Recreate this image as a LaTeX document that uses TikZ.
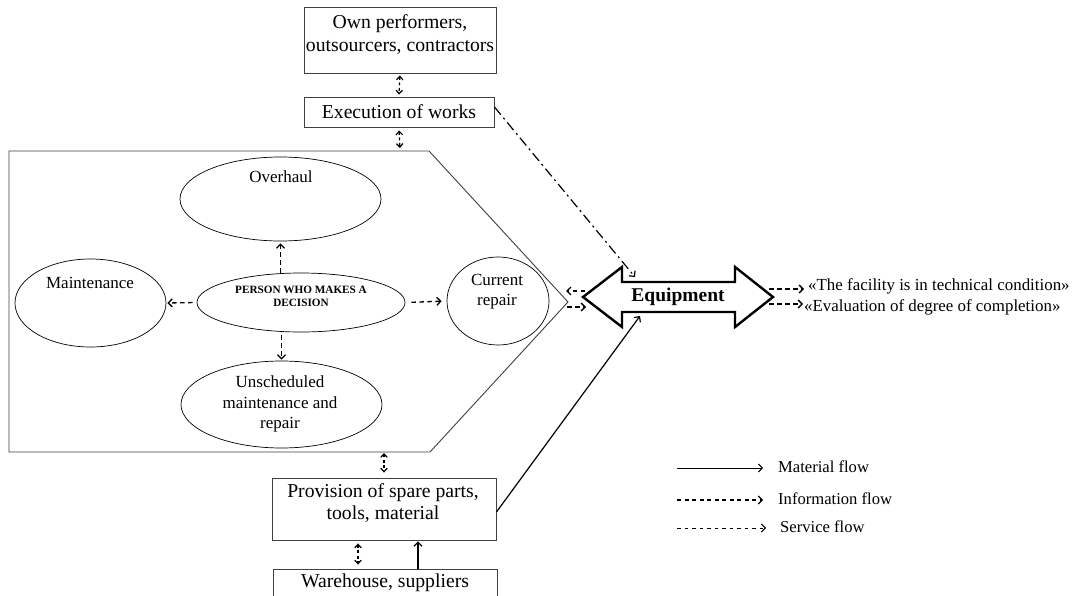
\documentclass[tikz,border=0pt]{standalone}
\usepackage{fontspec}
\setmainfont{Liberation Serif}
\usetikzlibrary{arrows.meta,shapes.geometric}
\begin{document}
\begin{tikzpicture}[x=1pt,y=-1pt,
  box/.style={draw=black!75, line width=0.9pt, inner sep=0pt},
  ell/.style={draw, ellipse, line width=0.7pt, inner sep=0pt},
  btxt/.style={inner sep=0pt, font=\fontsize{19.7}{22.5}\selectfont},
  etxt/.style={inner sep=0pt, font=\fontsize{17}{20.5}\selectfont},
  rtxt/.style={inner sep=0pt, font=\fontsize{16.9}{20}\selectfont},
  ltxt/.style={inner sep=0pt, font=\fontsize{16.6}{20}\selectfont},
  barb/.tip={Straight Barb[length=4pt,width=8pt]},
  sbarb/.tip={Straight Barb[length=3.5pt,width=6.5pt]},
  infoarrow/.style={line width=1.3pt, dash pattern=on 4.5pt off 3.5pt, -barb},
  leginfo/.style={line width=1.1pt, dash pattern=on 4pt off 3.5pt, -barb},
  servarrow/.style={line width=0.9pt, dash pattern=on 3.5pt off 4pt, -barb},
  dblarrow/.style={line width=1.2pt, dash pattern=on 3pt off 2.5pt, sbarb-sbarb},
  matarrow/.style={line width=1.2pt, -barb},
  legmat/.style={line width=1pt, -barb},
  ddarrow/.style={line width=1.2pt, dash pattern=on 10pt off 4pt on 2pt off 4pt, -barb}
]
\fill[white] (0,0) rectangle (1075,596);
\useasboundingbox (0,0) rectangle (1075,596);

% top boxes
\node[box, minimum width=192pt, minimum height=66pt] (own) at (400,40) {};
\node[btxt, align=center] (owntxt) at (400,34.5) {Own performers,\\outsourcers, contractors};
\node[box, btxt, minimum width=190pt, minimum height=30pt] (exec) at (399,112) {Execution of works};

% pentagon
\coordinate (pA) at (9,151);
\coordinate (pB) at (429,151);
\coordinate (pT) at (568,302);
\coordinate (pC) at (430,452);
\coordinate (pD) at (9,452);
\coordinate (ptop) at (400,151);
\coordinate (pbot) at (384,452);
\draw[draw=black!75, line width=0.9pt, line join=miter] (pA) -- (pB) -- (pT) -- (pC) -- (pD) -- cycle;

% ellipses
\node[ell, minimum width=201pt, minimum height=84pt] (over) at (280.5,199) {};
\node[etxt] (overtxt) at (281,177) {Overhaul};
\node[ell, minimum width=151pt, minimum height=88pt] (maint) at (90.5,303) {};
\node[etxt] (mainttxt) at (90,283) {Maintenance};
\node[ell, minimum width=208pt, minimum height=59pt] (person) at (301,302.5) {};
\node[inner sep=0pt, align=center, font=\bfseries\fontsize{11.2}{13}\selectfont] (persontxt) at (301,296) {PERSON WHO MAKES A\\DECISION};
\node[ell, minimum width=102pt, minimum height=88pt] (curr) at (498,301) {};
\node[etxt, align=center] (currtxt) at (497,291.5) {Current\\repair};
\node[ell, minimum width=201pt, minimum height=87pt] (unsch) at (281.5,404.5) {};
\node[etxt, align=center] (unschtxt) at (280,404) {Unscheduled\\maintenance and\\repair};

% arrows from person
\draw[infoarrow, shorten >=2pt] (over.south |- person.north) -- (over.south);
\draw[infoarrow, shorten <=4pt, shorten >=1pt] (person.west) -- (maint.east);
\draw[infoarrow, shorten <=6pt, shorten >=5pt] (person.east) -- (curr.west);
\draw[infoarrow, shorten <=3pt, shorten >=1pt] (unsch.north |- person.south) -- (unsch.north);

% Equipment
\node[inner sep=0pt, minimum width=190pt, minimum height=60pt, font=\bfseries\fontsize{19.5}{22}\selectfont] (equip) at (678,297) {Equipment};
\draw[line width=2.4pt, line join=miter] (583,297) -- (622,267) -- (622,282) -- (735,282) -- (735,267) -- (773,297) -- (735,327) -- (735,312) -- (622,312) -- (622,327) -- cycle;

\coordinate (eqL1) at (585,291);
\coordinate (pL1) at (566,291);
\coordinate (pL2) at (567,307);
\coordinate (eqL2) at (586,307);
\draw[infoarrow] (eqL1) -- (pL1);
\draw[infoarrow] (pL2) -- (eqL2);

% right texts
\node[rtxt, anchor=west] (cond) at (808,286) {«The facility is in technical condition»};
\node[rtxt, anchor=west] (evalc) at (804,307.5) {«Evaluation of degree of completion»};
\coordinate (eqR1) at (769,289);
\coordinate (eqR2) at (769,304);
\draw[infoarrow] (eqR1) -- ([xshift=-4pt]eqR1 -| cond.west);
\draw[infoarrow] (eqR2) -- ([xshift=-1pt]eqR2 -| evalc.west);

% dash-dot and material connectors
\coordinate (eqTop) at (635,277);
\coordinate (eqBot) at (640,316);
\draw[ddarrow] ([yshift=5pt]exec.east) -- (eqTop);

% vertical connectors top
\draw[dblarrow, shorten <=2pt, shorten >=2pt] (own.south) -- (exec.north);
\draw[dblarrow, shorten <=3pt, shorten >=3pt] (exec.south) -- (ptop);

% bottom boxes
\node[box, minimum width=224pt, minimum height=62pt] (prov) at (384,509) {};
\node[btxt, align=center] (provtxt) at (383,503) {Provision of spare parts,\\tools, material};
\node[box, minimum width=224pt, minimum height=50pt] (ware) at (385,594) {};
\node[btxt] (waretxt) at (385,583) {Warehouse, suppliers};

\draw[dblarrow, shorten <=1pt, shorten >=5pt] (pbot) -- (prov.north);
\draw[dblarrow, shorten <=3pt, shorten >=4pt] ([xshift=-26pt]prov.south) -- ([xshift=-27pt]ware.north);
\draw[matarrow, shorten >=1pt] ([xshift=33pt]ware.north) -- ([xshift=34pt]prov.south);
\draw[matarrow] ([yshift=-3pt]prov.east) -- (eqBot);

% legend
\coordinate (m1) at (677,468);
\coordinate (m2) at (763,468);
\coordinate (i1) at (677,500);
\coordinate (i2) at (763,500);
\coordinate (s1) at (677,528);
\coordinate (s2) at (766,528);
\node[ltxt, anchor=west] (mtxt) at (778,467) {Material flow};
\node[ltxt, anchor=west] (itxt) at (778,499) {Information flow};
\node[ltxt, anchor=west] (stxt) at (780,527) {Service flow};
\draw[legmat] (m1) -- (m2);
\draw[leginfo] (i1) -- (i2);
\draw[servarrow] (s1) -- (s2);
\end{tikzpicture}
\end{document}
